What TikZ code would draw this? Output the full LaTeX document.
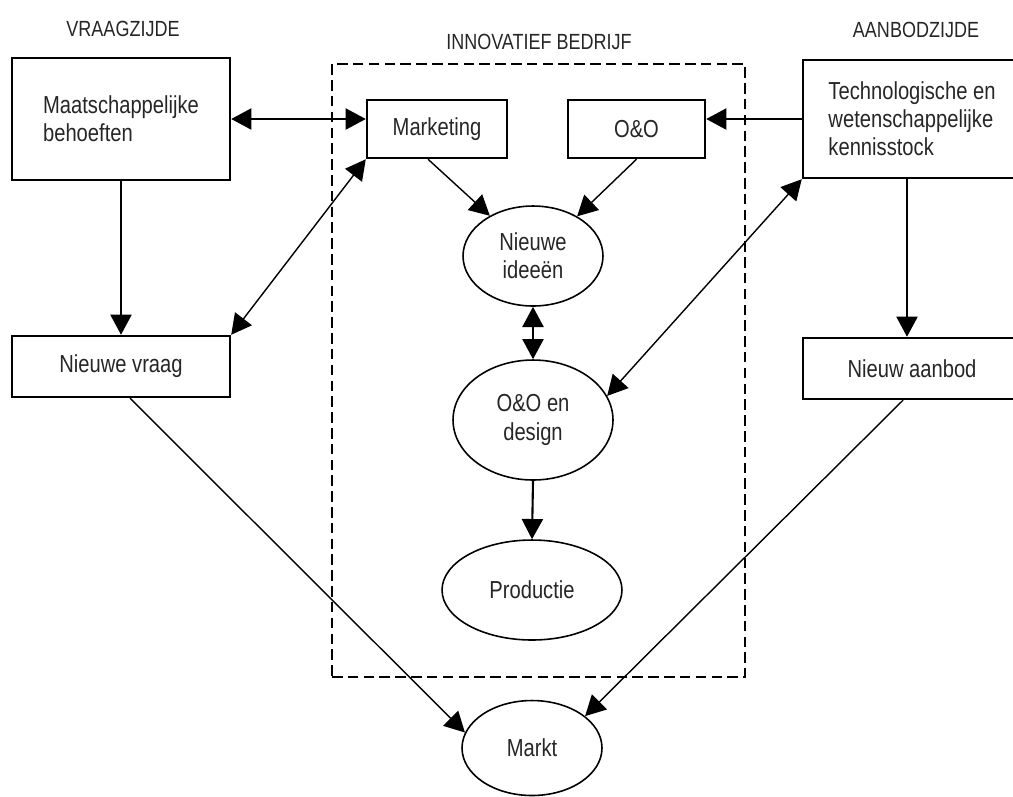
\documentclass[tikz,border=0pt]{standalone}
\usepackage{fontspec}
\setmainfont{Liberation Sans}[FakeStretch=0.82]
\usetikzlibrary{arrows.meta,shapes.geometric}

\begin{document}
\begin{tikzpicture}[
  x=0.02cm, y=-0.02cm,
  font=\fontsize{14}{16}\selectfont,
  >={Triangle[length=11.5pt,width=12pt]},
  sidebox/.style ={draw,rectangle,line width=1.4pt,minimum width=4.36cm,
                   align=left,text=black!85},
  unit/.style    ={draw,rectangle,line width=1.4pt,minimum height=1.16cm,
                   text=black!85},
  blob/.style    ={draw,ellipse,line width=0.9pt,align=center,text=black!85,
                   inner sep=0pt},
  head/.style    ={font=\fontsize{12.5}{14}\selectfont,text=black!85},
  firm/.style    ={draw,rectangle,line width=1pt,dash pattern=on 6pt off 3pt,
                   minimum width=8.26cm,minimum height=12.26cm},
  flow/.style    ={line width=1.2pt},
  link/.style    ={line width=0.8pt},
]
\useasboundingbox (0,0) rectangle (1013,796);

%% ============================================================
%%  Headings
%% ============================================================
\node[head] (vraagzijde) at (123,29) {VRAAGZIJDE};
\node[head] (bedrijf) at (539,42) {INNOVATIEF BEDRIJF};
\node[head] (aanbodzijde) at (916,30) {AANBODZIJDE};

%% ============================================================
%%  Demand side (left)
%% ============================================================
\node[sidebox,minimum height=2.44cm] (behoeften) at (121,119)
      {Maatschappelijke\\behoeften};
\node[sidebox,minimum height=1.22cm] (vraag) at (121,366.5) {Nieuwe vraag};

%% ============================================================
%%  Supply side (right)
%% ============================================================
\node[sidebox,minimum height=2.36cm] (kennis) at (912,119)
      {Technologische en\\wetenschappelijke\\kennisstock};
\node[sidebox,minimum height=1.22cm] (aanbod) at (912,368.5) {Nieuw aanbod};

%% ============================================================
%%  Innovative firm
%% ============================================================
\node[firm] (firm) at (538.5,370.5) {};
\node[unit,minimum width=2.8cm] (marketing) at (437,129) {Marketing};
\node[unit,minimum width=2.74cm] (oeno) at (636.5,129) {O\&O};
\node[blob,minimum width=2.8cm,minimum height=2.0cm] (ideeen) at (533,256)
      {Nieuwe\\ideeën};
\node[blob,minimum width=3.2cm,minimum height=2.4cm] (design) at (533,420)
      {O\&O en\\design};
\node[blob,minimum width=3.6cm,minimum height=2.0cm] (productie) at (532,590)
      {Productie};

%% Market
\node[blob,minimum width=2.8cm,minimum height=1.9cm] (markt) at (532,748)
      {Markt};

%% ============================================================
%%  Connectors
%% ============================================================
\draw[flow,<->] (behoeften.east) -- (behoeften.east -| marketing.west);
\draw[flow,->] (kennis.west) -- (kennis.west -| oeno.east);
\draw[flow,->] (behoeften.south) -- (vraag.north);
\draw[flow,->] ([xshift=-0.1cm]kennis.south) -- ([xshift=-0.1cm]aanbod.north);

\draw[link,<->] (marketing.south west) -- (vraag.north east);
\draw[link,<->] (kennis.south west) -- (design.18);

\draw[link,->] ([xshift=-0.18cm]marketing.south) -- (ideeen.137);
\draw[link,->] (oeno.south) -- (ideeen.42);
\draw[flow,<->] (ideeen.south) -- (design.north);
\draw[flow,->] (design.south) -- (productie.north);

\draw[link,->] ([xshift=0.18cm]vraag.south) -- (markt.167);
\draw[link,->] ([xshift=-0.18cm]aanbod.south) -- (markt.31);

\end{tikzpicture}
\end{document}
